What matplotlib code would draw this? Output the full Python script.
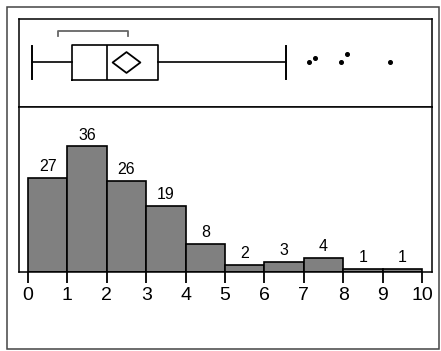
import numpy as np
import matplotlib
matplotlib.use("Agg")
import matplotlib.pyplot as plt
from matplotlib.patches import Rectangle
from matplotlib.path import Path

# histogram data
bin_edges = [0, 1, 2, 3, 4, 5, 6, 7, 8, 9, 10]
counts = [27, 36, 26, 19, 8, 2, 3, 4, 1, 1]
tick_labels = ["0", "1", "2", "3", "4", "5", "6", "7", "8", "9", "10"]

# box plot summary
whisker_lo = 0.11
q1 = 1.12
median = 2.0
q3 = 3.31
whisker_hi = 6.54
mean = 2.49
outliers_x = [7.12, 7.27, 7.94, 8.09, 9.19]
outliers_y = [0.508, 0.553, 0.508, 0.598, 0.508]
shortest_half = [0.77, 2.54]

plt.rcParams['font.family'] = ['Liberation Sans', 'DejaVu Sans']

fig = plt.figure(figsize=(4.41, 3.51), dpi=100)

# rahmen aussen
fig.patches.append(Rectangle((7/441, 2/351), 432/441, 342/351, transform=fig.transFigure,
                             fill=False, edgecolor="#444444", linewidth=1.1))

xlim = (-0.228, 10.25)

# --- box plot panel ---
ax_box = fig.add_axes([19/441, 1 - 107/351, 413/441, 88/351])
stats = [dict(whislo=whisker_lo, q1=q1, med=median, q3=q3, whishi=whisker_hi,
              mean=mean, fliers=[])]
ax_box.bxp(stats, positions=[0.508], widths=0.398, orientation='horizontal',
           showmeans=False, showfliers=False, capwidths=0.375,
           boxprops=dict(color="black", linewidth=1.2),
           whiskerprops=dict(color="black", linewidth=1.2),
           capprops=dict(color="black", linewidth=1.4),
           medianprops=dict(color="black", linewidth=1.2))
diamond = Path([(-0.5, 0), (0, 0.375), (0.5, 0), (0, -0.375), (-0.5, 0)],
               [Path.MOVETO, Path.LINETO, Path.LINETO, Path.LINETO, Path.CLOSEPOLY])
ax_box.plot([mean], [0.508], marker=diamond, markersize=20, markerfacecolor="white",
            markeredgecolor="black", markeredgewidth=1.3, linestyle="none")
ax_box.plot(outliers_x, outliers_y, "o", color="black", markersize=2.6)
ax_box.plot([shortest_half[0], shortest_half[0], shortest_half[1], shortest_half[1]],
            [0.807, 0.864, 0.864, 0.807], color="#666666", linewidth=1.3)
ax_box.set_xlim(*xlim)
ax_box.set_ylim(0, 1)
ax_box.set_xticks([])
ax_box.set_yticks([])
for s in ax_box.spines.values():
    s.set_linewidth(1.1)

# --- histogram panel ---
ax = fig.add_axes([19/441, 1 - 272/351, 413/441, 165/351])
widths = np.diff(bin_edges)
bars = ax.bar(bin_edges[:-1], counts, width=widths, align="edge",
              color="#808080", edgecolor="black", linewidth=1.2)
for b, c in zip(bars, counts):
    ax.text(b.get_x() + b.get_width() / 2, b.get_height() + 1.1, str(c),
            ha="center", va="bottom", fontsize=11.5)
ax.set_xlim(*xlim)
ax.set_ylim(0, 47.3)
ax.set_yticks([])
ax.set_xticks(bin_edges)
ax.set_xticklabels(tick_labels, fontsize=14)
ax.tick_params(axis="x", direction="out", length=8, width=1.3, pad=3)
for s in ax.spines.values():
    s.set_linewidth(1.1)

fig.savefig("out.png", dpi=100)
